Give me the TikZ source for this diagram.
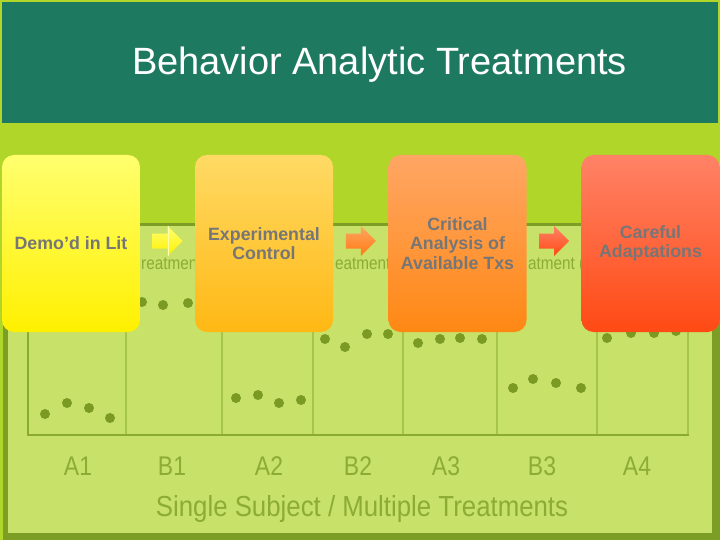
\documentclass[tikz,border=0pt]{standalone}
\usepackage{fontspec}
\setmainfont{Liberation Sans}
\newfontfamily\narrowfont[FakeStretch=0.85]{Liberation Sans}
\newfontfamily\captionfont[FakeStretch=0.89]{Liberation Sans}
\usetikzlibrary{calc}
\definecolor{bandgreen}{RGB}{30,121,97}
\definecolor{limegreen}{RGB}{176,214,42}
\definecolor{panelgreen}{RGB}{200,225,105}
\definecolor{olivegreen}{RGB}{125,158,36}
\definecolor{axisgreen}{RGB}{138,170,48}
\definecolor{sepgreen}{RGB}{165,198,75}
\definecolor{dotgreen}{RGB}{122,154,36}
\definecolor{labelgreen}{RGB}{140,172,52}
\definecolor{boxtext}{RGB}{118,118,118}
\definecolor{yA}{RGB}{255,255,110}
\definecolor{yB}{RGB}{255,240,0}
\definecolor{oA}{RGB}{255,218,100}
\definecolor{oB}{RGB}{255,184,20}
\definecolor{rA}{RGB}{255,166,100}
\definecolor{rB}{RGB}{255,136,20}
\definecolor{qA}{RGB}{255,130,102}
\definecolor{qB}{RGB}{255,74,20}
\tikzset{
  stepbox/.style={rounded corners=12pt, minimum width=138pt, minimum height=177pt,
    inner sep=0pt, align=center, text=boxtext,
    font=\bfseries\fontsize{17.8}{19.5}\selectfont},
  phaselabel/.style={text=labelgreen, inner sep=0pt, anchor=base,
    font=\narrowfont\fontsize{27}{30}\selectfont},
  frag/.style={text=labelgreen, inner sep=0pt, anchor=base west,
    font=\narrowfont\fontsize{18}{20}\selectfont},
  datadot/.style={fill=dotgreen},
  sepline/.style={draw=sepgreen, line width=2pt},
}
\begin{document}
\begin{tikzpicture}[x=1pt,y=-1pt]
\useasboundingbox (0,0) rectangle (720,540);
% backgrounds
\fill[limegreen] (0,0) rectangle (720,540);
\fill[bandgreen] (2,2) rectangle (718,123);
\node[text=white, inner sep=0pt, anchor=base, font=\fontsize{38}{40}\selectfont] (title) at (379.5,75) {Behavior Analytic Treatments};
% chart panel
\fill[olivegreen] (3,223) rectangle (720,540);
\fill[panelgreen] (8,226) rectangle (712,533);
% chart frame
\foreach \x in {126,222,313,403,497,597,688} {
  \draw[sepline] (\x,226) -- (\x,435);
}
\draw[draw=axisgreen, line width=2.5pt] (28,226) -- (28,435) -- (689,435);
% data points
\foreach \p in {(45,414),(67,403),(89,408),(110,418),
                (142,302),(163,305),(188,303),
                (236,398),(258,395),(279,403),(301,400),
                (325,339),(345,347),(367,334),(388,334),
                (418,343),(440,339),(460,338),(482,339),
                (513,388),(533,379),(556,383),(581,388),
                (607,338),(631,333),(654,333),(676,331)} {
  \fill[datadot] \p circle (5);
}
% phase labels
\node[phaselabel] (lA1) at (78,475) {A1};
\node[phaselabel] (lB1) at (172,475) {B1};
\node[phaselabel] (lA2) at (269,475) {A2};
\node[phaselabel] (lB2) at (358,475) {B2};
\node[phaselabel] (lA3) at (446,475) {A3};
\node[phaselabel] (lB3) at (542,475) {B3};
\node[phaselabel] (lA4) at (637,475) {A4};
\node[phaselabel, font=\captionfont\fontsize{29}{32}\selectfont] (caption) at (362,516) {Single Subject / Multiple Treatments};
% partially visible treatment labels (as printed between the boxes)
\node[frag] (t1) at (141,269) {reatmen};
\node[frag] (t2) at (335,269) {eatment};
\node[frag] (t3) at (528,269) {atment (};
% boxes
\node[stepbox, top color=yA, bottom color=yB] (b1) at (71,243.5) {Demo’d in Lit};
\node[stepbox, top color=oA, bottom color=oB] (b2) at (264,243.5) {Experimental\\Control};
\node[stepbox, top color=rA, bottom color=rB] (b3) at (457.5,243.5) {Critical\\Analysis of\\Available Txs};
\node[stepbox, top color=qA, bottom color=qB] (b4) at (650.5,243.5) {Careful\\Adaptations};
% block arrows
\coordinate (m1) at ($($(b1.east)!0.5!(b2.west)$)+(0,-2.5)$);
\coordinate (m2) at ($($(b2.east)!0.5!(b3.west)$)+(0,-2.5)$);
\coordinate (m3) at ($($(b3.east)!0.5!(b4.west)$)+(0,-2.5)$);
\shade[top color=yA, bottom color=yB]
  ($(m1)+(-15,-7.5)$) -- ($(m1)+(0,-7.5)$) -- ($(m1)+(0,-15)$) -- ($(m1)+(15,0)$)
  -- ($(m1)+(0,15)$) -- ($(m1)+(0,7.5)$) -- ($(m1)+(-15,7.5)$) -- cycle;
\draw[yA!60!white, line width=0.8pt] ($(m1)+(0.6,-15)$) -- ($(m1)+(0.6,15)$);
\shade[top color=rA, bottom color=rB!90!red]
  ($(m2)+(-15,-7.5)$) -- ($(m2)+(0,-7.5)$) -- ($(m2)+(0,-15)$) -- ($(m2)+(15,0)$)
  -- ($(m2)+(0,15)$) -- ($(m2)+(0,7.5)$) -- ($(m2)+(-15,7.5)$) -- cycle;
\shade[top color=qA, bottom color=qB]
  ($(m3)+(-15,-7.5)$) -- ($(m3)+(0,-7.5)$) -- ($(m3)+(0,-15)$) -- ($(m3)+(15,0)$)
  -- ($(m3)+(0,15)$) -- ($(m3)+(0,7.5)$) -- ($(m3)+(-15,7.5)$) -- cycle;
\end{tikzpicture}
\end{document}
